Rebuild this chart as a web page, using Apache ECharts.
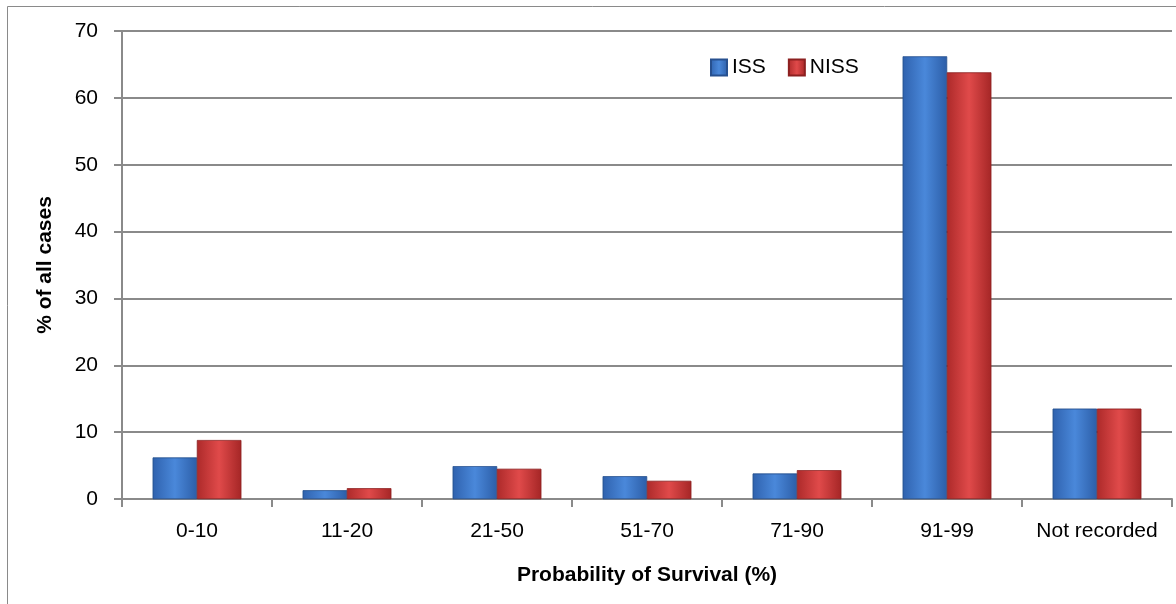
<!DOCTYPE html>
<html>
<head>
<meta charset="utf-8">
<script src="https://cdn.jsdelivr.net/npm/echarts@6/dist/echarts.min.js"></script>
<style>
  html, body { margin: 0; padding: 0; background: #fff; }
  #chart { width: 1176px; height: 604px; }
</style>
</head>
<body>
<div id="chart"></div>
<script>
const categories = ['0-10', '11-20', '21-50', '51-70', '71-90', '91-99', 'Not recorded']
const issValues = [6.2, 1.3, 4.9, 3.4, 3.8, 66.2, 13.5]
const nissValues = [8.8, 1.6, 4.5, 2.7, 4.3, 63.8, 13.5]

const chart = echarts.init(document.getElementById('chart'))

const grad = (a, b, c) => new echarts.graphic.LinearGradient(0, 0, 1, 0, [
  {offset: 0, color: a}, {offset: 0.5, color: b}, {offset: 1, color: c}
])

const option = {
  textStyle: {fontFamily: 'Liberation Sans'},
  graphic: [{
    type: 'rect',
    shape: {x: 7.5, y: 6.5, width: 1180, height: 620},
    style: {fill: 'none', stroke: '#8a8a8a', lineWidth: 1},
    silent: true
  }],
  legend: {
    left: 705,
    top: 52,
    icon: 'rect',
    itemWidth: 16,
    itemHeight: 16,
    itemGap: 22,
    textStyle: {fontSize: 21, color: '#000'},
    data: ['ISS', 'NISS']
  },
  grid: {left: 122, right: 4, top: 31, bottom: 105},
  xAxis: {
    type: 'category',
    data: categories,
    name: 'Probability of Survival (%)',
    nameLocation: 'middle',
    nameGap: 66,
    nameTextStyle: {fontSize: 21, fontWeight: 'bold', color: '#000'},
    axisLine: {lineStyle: {color: '#8a8a8a', width: 2}},
    axisTick: {show: true, length: 8, lineStyle: {color: '#8a8a8a', width: 2}},
    axisLabel: {fontSize: 21, color: '#000', margin: 22, interval: 0, hideOverlap: false}
  },
  yAxis: {
    type: 'value',
    min: 0,
    max: 70,
    interval: 10,
    name: '% of all cases',
    nameLocation: 'middle',
    nameGap: 66,
    nameTextStyle: {fontSize: 21, fontWeight: 'bold', color: '#000'},
    axisLine: {show: true, lineStyle: {color: '#8a8a8a', width: 2}},
    axisTick: {show: true, length: 8, lineStyle: {color: '#8a8a8a', width: 2}},
    axisLabel: {fontSize: 21, color: '#000', margin: 24},
    splitLine: {lineStyle: {color: '#8a8a8a', width: 2}}
  },
  series: [
    {
      name: 'ISS',
      type: 'bar',
      data: issValues,
      barGap: '0%',
      barCategoryGap: '41%',
      itemStyle: {
        color: grad('#2f62ae', '#4a88da', '#2c5ea8'),
        borderColor: '#27508f',
        borderWidth: 0.5
      }
    },
    {
      name: 'NISS',
      type: 'bar',
      data: nissValues,
      itemStyle: {
        color: grad('#ad2a2a', '#e04a4a', '#a52626'),
        borderColor: '#8c2020',
        borderWidth: 0.5
      }
    }
  ]
}

chart.setOption(option)
</script>
</body>
</html>
